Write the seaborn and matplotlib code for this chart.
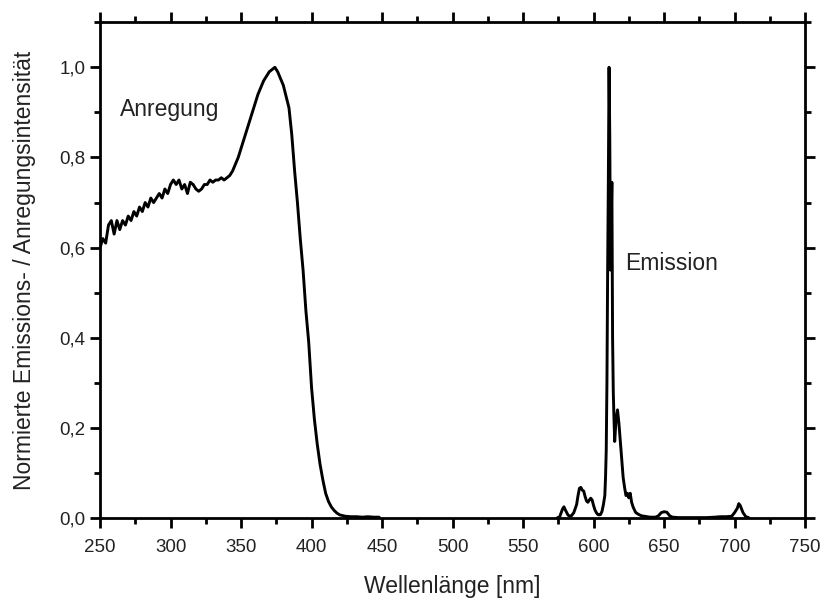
import numpy as np
import pandas as pd
import seaborn as sns
import matplotlib
matplotlib.use("Agg")
import matplotlib.pyplot as plt
from matplotlib.ticker import MultipleLocator, FuncFormatter

# Anregung (excitation) spectrum
exc_wl = [250, 252, 254, 256, 258, 260, 262, 264, 266, 268, 270, 272, 274, 276, 278,
          280, 282, 284, 286, 288, 290, 292, 294, 296, 298, 300, 302, 304, 306, 308,
          310, 312, 314, 316, 318, 320, 322, 324, 326, 328, 330, 332, 334, 336, 338,
          340, 342, 344, 346, 348, 350, 352, 354, 356, 358, 360, 362, 364, 366, 368,
          370, 372, 374, 376, 378, 380, 382, 384, 386, 388, 390, 392, 394, 396, 398,
          400, 402, 404, 406, 408, 410, 412, 414, 416, 418, 420, 424, 428, 432, 436,
          440, 444, 448]
exc_int = [0.60, 0.62, 0.61, 0.65, 0.66, 0.63, 0.66, 0.64, 0.66, 0.65, 0.67, 0.66, 0.68, 0.67, 0.69,
           0.68, 0.70, 0.69, 0.71, 0.70, 0.71, 0.72, 0.71, 0.73, 0.72, 0.74, 0.75, 0.74, 0.75, 0.73,
           0.74, 0.72, 0.745, 0.74, 0.73, 0.725, 0.73, 0.74, 0.74, 0.75, 0.745, 0.75, 0.75, 0.755, 0.75,
           0.755, 0.76, 0.77, 0.785, 0.80, 0.82, 0.84, 0.86, 0.88, 0.90, 0.92, 0.94, 0.955, 0.97, 0.98,
           0.99, 0.995, 1.0, 0.99, 0.975, 0.96, 0.935, 0.91, 0.85, 0.77, 0.70, 0.62, 0.55, 0.46, 0.39,
           0.29, 0.22, 0.165, 0.12, 0.085, 0.055, 0.037, 0.025, 0.017, 0.011, 0.007, 0.004, 0.003, 0.003, 0.002,
           0.003, 0.002, 0.002]

# Emission spectrum
em_wl = [574, 576, 578, 579, 580, 582, 584, 586, 588, 589, 590, 591, 592, 593, 594,
         595, 596, 597, 598, 599, 600, 601, 602, 603, 604, 605, 606, 607, 608, 608.5,
         609, 609.5, 610, 610.5, 611, 611.5, 612, 612.5, 613, 613.5, 614, 614.5, 615, 616, 617,
         618, 619, 620, 621, 622, 623, 624, 625, 626, 627, 628, 629, 630, 632, 634,
         636, 638, 640, 644, 646, 648, 650, 652, 654, 656, 660, 670, 680, 686, 690,
         694, 698, 700, 702, 703, 704, 705, 706, 708, 710]
em_int = [0.0, 0.003, 0.02, 0.025, 0.018, 0.006, 0.004, 0.012, 0.03, 0.05, 0.066, 0.068, 0.062, 0.06, 0.048,
          0.038, 0.035, 0.04, 0.044, 0.04, 0.028, 0.018, 0.012, 0.008, 0.007, 0.008, 0.015, 0.03, 0.05, 0.09,
          0.15, 0.30, 0.55, 0.75, 1.0, 0.85, 0.55, 0.65, 0.745, 0.40, 0.28, 0.22, 0.17, 0.22, 0.24,
          0.21, 0.17, 0.13, 0.09, 0.068, 0.05, 0.055, 0.045, 0.055, 0.035, 0.025, 0.018, 0.012, 0.008, 0.005,
          0.004, 0.003, 0.002, 0.002, 0.005, 0.012, 0.014, 0.013, 0.005, 0.002, 0.001, 0.001, 0.001, 0.002, 0.003,
          0.003, 0.004, 0.012, 0.022, 0.032, 0.028, 0.02, 0.012, 0.003, 0.001]

exc = pd.DataFrame({"wl": exc_wl, "val": exc_int})
em = pd.DataFrame({"wl": em_wl, "val": em_int})

sns.set_theme(style="ticks")
plt.rcParams["font.family"] = ["Liberation Sans", "DejaVu Sans"]
txt = "#222222"

fig = plt.figure(figsize=(8.24, 6.01), dpi=100)
ax = fig.add_axes([0.1214, 0.138, 0.8556, 0.825])

sns.lineplot(data=exc, x="wl", y="val", ax=ax, color="black", lw=2.1,
             estimator=None, sort=False)
sns.lineplot(data=em, x="wl", y="val", ax=ax, color="black", lw=2.1,
             estimator=None, sort=False)

ax.set_xlim(250, 750)
ax.set_ylim(0, 1.1)
ax.xaxis.set_major_locator(MultipleLocator(50))
ax.xaxis.set_minor_locator(MultipleLocator(25))
ax.yaxis.set_major_locator(MultipleLocator(0.2))
ax.yaxis.set_minor_locator(MultipleLocator(0.1))
ax.yaxis.set_major_formatter(FuncFormatter(lambda v, p: f"{v:.1f}".replace(".", ",")))

for s in ax.spines.values():
    s.set_linewidth(2)
    s.set_color("black")
ax.tick_params(which="both", direction="out", top=True, right=True,
               labeltop=False, labelright=False, width=2, color="black",
               labelsize=13.5, labelcolor=txt)
ax.tick_params(which="major", length=7)
ax.tick_params(which="minor", length=4)
ax.tick_params(axis="x", which="major", pad=8)

ax.set_xlabel("Wellenlänge [nm]", fontsize=16.5, color=txt, labelpad=14)
ax.set_ylabel("Normierte Emissions- / Anregungsintensität", fontsize=16.5,
              color=txt, labelpad=17)

ax.text(264, 0.907, "Anregung", fontsize=16.5, color=txt, va="center", ha="left")
ax.text(622.3, 0.564, "Emission", fontsize=16.5, color=txt, va="center", ha="left")

fig.savefig("out.png", dpi=100)
